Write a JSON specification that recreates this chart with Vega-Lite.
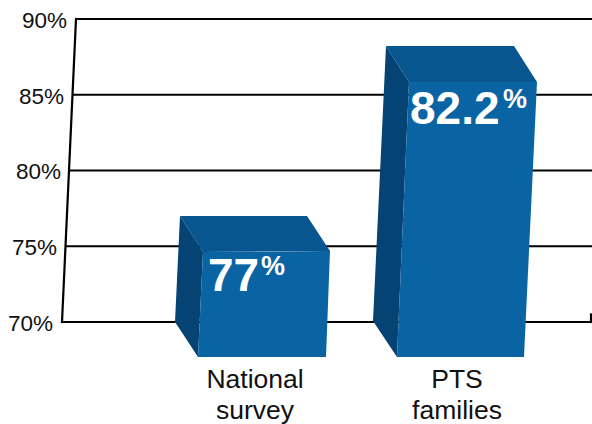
{
"$schema":"https://vega.github.io/schema/vega-lite/v6.json",
"width":592,"height":424,"padding":0,
"autosize":{"type":"none"},
"background":"#ffffff",
"config":{"view":{"stroke":null}},
"datasets":{
"grid":[{"pct":70,"start":62,"end":592},{"pct":75,"start":65.5,"end":592},{"pct":80,"start":69,"end":592},{"pct":85,"start":72.5,"end":592},{"pct":90,"start":76,"end":592}],
"wall":[{"part":"left","pos":62,"pct":70},{"part":"left","pos":76,"pct":90},{"part":"right","pos":591,"pct":70},{"part":"right","pos":591,"pct":70.5}],
"faces":[
{"bar":"National survey","face":"side","pos":175,"low":70,"high":70},
{"bar":"National survey","face":"side","pos":180,"low":69.5,"high":77},
{"bar":"National survey","face":"side","pos":198,"low":67.69,"high":75.15},
{"bar":"National survey","face":"side","pos":203,"low":74.62,"high":74.62},
{"bar":"National survey","face":"top","pos":180,"low":77,"high":77},
{"bar":"National survey","face":"top","pos":203,"low":74.62,"high":77},
{"bar":"National survey","face":"top","pos":307,"low":74.68,"high":77},
{"bar":"National survey","face":"top","pos":330,"low":74.68,"high":74.68},
{"bar":"National survey","face":"front","pos":198,"low":67.69,"high":67.69},
{"bar":"National survey","face":"front","pos":203,"low":67.69,"high":74.62},
{"bar":"National survey","face":"front","pos":326,"low":67.69,"high":74.68},
{"bar":"National survey","face":"front","pos":330,"low":74.68,"high":74.68},
{"bar":"PTS families","face":"side","pos":373,"low":70.07,"high":70.07},
{"bar":"PTS families","face":"side","pos":386,"low":68.78,"high":88.22},
{"bar":"PTS families","face":"side","pos":397,"low":67.69,"high":87.08},
{"bar":"PTS families","face":"side","pos":409,"low":85.84,"high":85.84},
{"bar":"PTS families","face":"top","pos":386,"low":88.22,"high":88.22},
{"bar":"PTS families","face":"top","pos":409,"low":85.84,"high":88.22},
{"bar":"PTS families","face":"top","pos":514,"low":85.84,"high":88.22},
{"bar":"PTS families","face":"top","pos":537,"low":85.84,"high":85.84},
{"bar":"PTS families","face":"front","pos":397,"low":67.69,"high":67.69},
{"bar":"PTS families","face":"front","pos":409,"low":67.69,"high":85.84},
{"bar":"PTS families","face":"front","pos":524,"low":67.69,"high":85.84},
{"bar":"PTS families","face":"front","pos":537,"low":85.84,"high":85.84}
],
"ticks":[{"pct":70,"pos":53,"label":"70%"},{"pct":75,"pos":57,"label":"75%"},{"pct":80,"pos":61,"label":"80%"},{"pct":85,"pos":64,"label":"85%"},{"pct":90,"pos":67,"label":"90%"}],
"cats":[{"pos":255,"pct":65.64,"label":"National|survey"},{"pos":457,"pct":65.64,"label":"PTS|families"}],
"vals":[{"pos":208,"pct":72.05,"label":"77"},{"pos":410,"pct":83.07,"label":"82.2"}],
"pcts":[{"pos":261,"pct":73.1,"label":"%"},{"pos":503,"pct":84.1,"label":"%"}]
},
"encoding":{
"x":{"field":"pos","type":"quantitative","scale":{"domain":[0,592],"nice":false,"zero":false},"axis":null},
"y":{"field":"pct","type":"quantitative","scale":{"domain":[63.267,91.254],"nice":false,"zero":false},"axis":null}
},
"layer":[
{"data":{"name":"grid"},"mark":{"type":"rule","color":"#000000","strokeWidth":2.2},
 "encoding":{"x":{"field":"start","type":"quantitative","scale":{"domain":[0,592],"nice":false,"zero":false},"axis":null},"x2":{"field":"end"}}},
{"data":{"name":"wall"},"mark":{"type":"line","color":"#000000","strokeWidth":2.2,"strokeCap":"square"},
 "encoding":{"detail":{"field":"part"}}},
{"data":{"name":"faces"},"mark":{"type":"area","interpolate":"linear","opacity":1},
 "encoding":{
  "y":{"field":"low","type":"quantitative","scale":{"domain":[63.267,91.254],"nice":false,"zero":false},"axis":null},
  "y2":{"field":"high"},
  "color":{"field":"face","type":"nominal","legend":null,"scale":{"domain":["front","top","side"],"range":["#0a63a3","#07568f","#044373"]}},
  "detail":{"field":"bar"}}},
{"data":{"name":"ticks"},"mark":{"type":"text","align":"right","baseline":"middle","font":"Liberation Sans","fontSize":22.5,"dy":2,"color":"#111111"},
 "encoding":{"text":{"field":"label"}}},
{"data":{"name":"cats"},"mark":{"type":"text","align":"center","baseline":"alphabetic","font":"Liberation Sans","fontSize":26.5,"lineBreak":"|","lineHeight":31,"color":"#111111"},
 "encoding":{"text":{"field":"label"}}},
{"data":{"name":"vals"},"mark":{"type":"text","align":"left","baseline":"alphabetic","font":"Liberation Sans","fontWeight":"bold","fontSize":46,"color":"#ffffff"},
 "encoding":{"text":{"field":"label"}}},
{"data":{"name":"pcts"},"mark":{"type":"text","align":"left","baseline":"alphabetic","font":"Liberation Sans","fontWeight":"bold","fontSize":27,"color":"#ffffff"},
 "encoding":{"text":{"field":"label"}}}
]
}
